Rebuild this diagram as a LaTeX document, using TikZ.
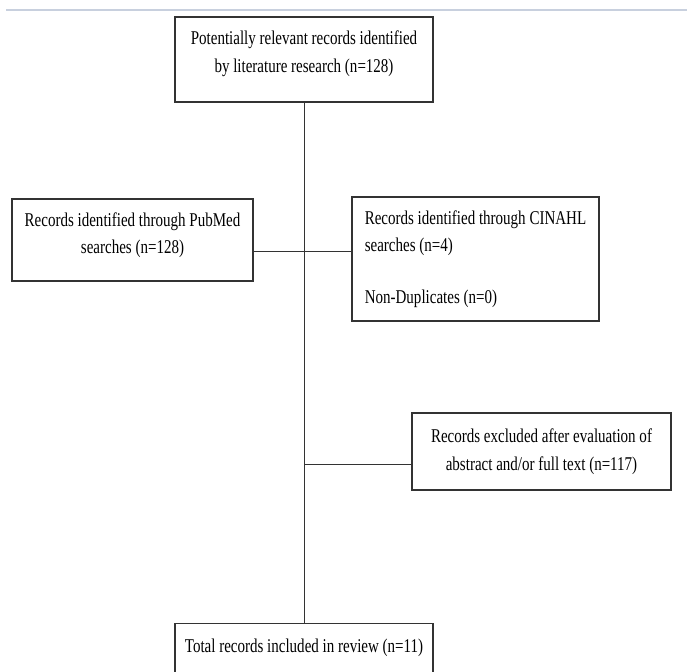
\documentclass[tikz,border=0pt]{standalone}
\usepackage{fontspec}
\setmainfont[FakeStretch=0.77]{Liberation Serif}
\usetikzlibrary{positioning}
\definecolor{filet}{RGB}{200,208,222}

\begin{document}
\begin{tikzpicture}[
    x=1pt,
    y=1pt,
    boite/.style={
        rectangle,
        draw=black!80,
        line width=1.1pt,
        inner sep=0pt,
        align=center,
        font=\fontsize{19.5}{27.5}\selectfont
    },
    lien/.style={
        line width=0.8pt,
        draw=black!80
    },
    regle/.style={
        line width=1.5pt,
        draw=filet
    }
]

\useasboundingbox (0,0) rectangle (687,671);

\draw[regle] (6,661) -- (687,661);

\node[boite, minimum width=258pt, minimum height=85pt, text depth=16pt] (records) at (304,611.5)
{Potentially relevant records identified\\by literature research (n=128)};

\node[boite, minimum width=241pt, minimum height=82pt, text depth=14pt] (pubmed) at (132.5,431)
{Records identified through PubMed\\searches (n=128)};

\node[boite, minimum width=247pt, minimum height=124pt, align=left] (cinahl) at (475.5,412)
{Records identified through CINAHL\\searches (n=4)\\[24pt]Non-Duplicates (n=0)};

\node[boite, minimum width=259pt, minimum height=77pt] (exclus) at (541.5,219.5)
{Records excluded after evaluation of\\abstract and/or full text (n=117)};

\node[boite, anchor=north, minimum width=258pt, text height=29pt,
      text depth=30pt] (total) at (304,48)
{Total records included in review (n=11)};

\draw[lien] (records.south) -- (total.north);
\draw[lien] ([yshift=-11pt]pubmed.east) -- ([yshift=-11pt]pubmed.east -| cinahl.west);
\draw[lien] ([yshift=-13pt]exclus.west) -- ([yshift=-13pt]exclus.west -| records.south);

\end{tikzpicture}
\end{document}
